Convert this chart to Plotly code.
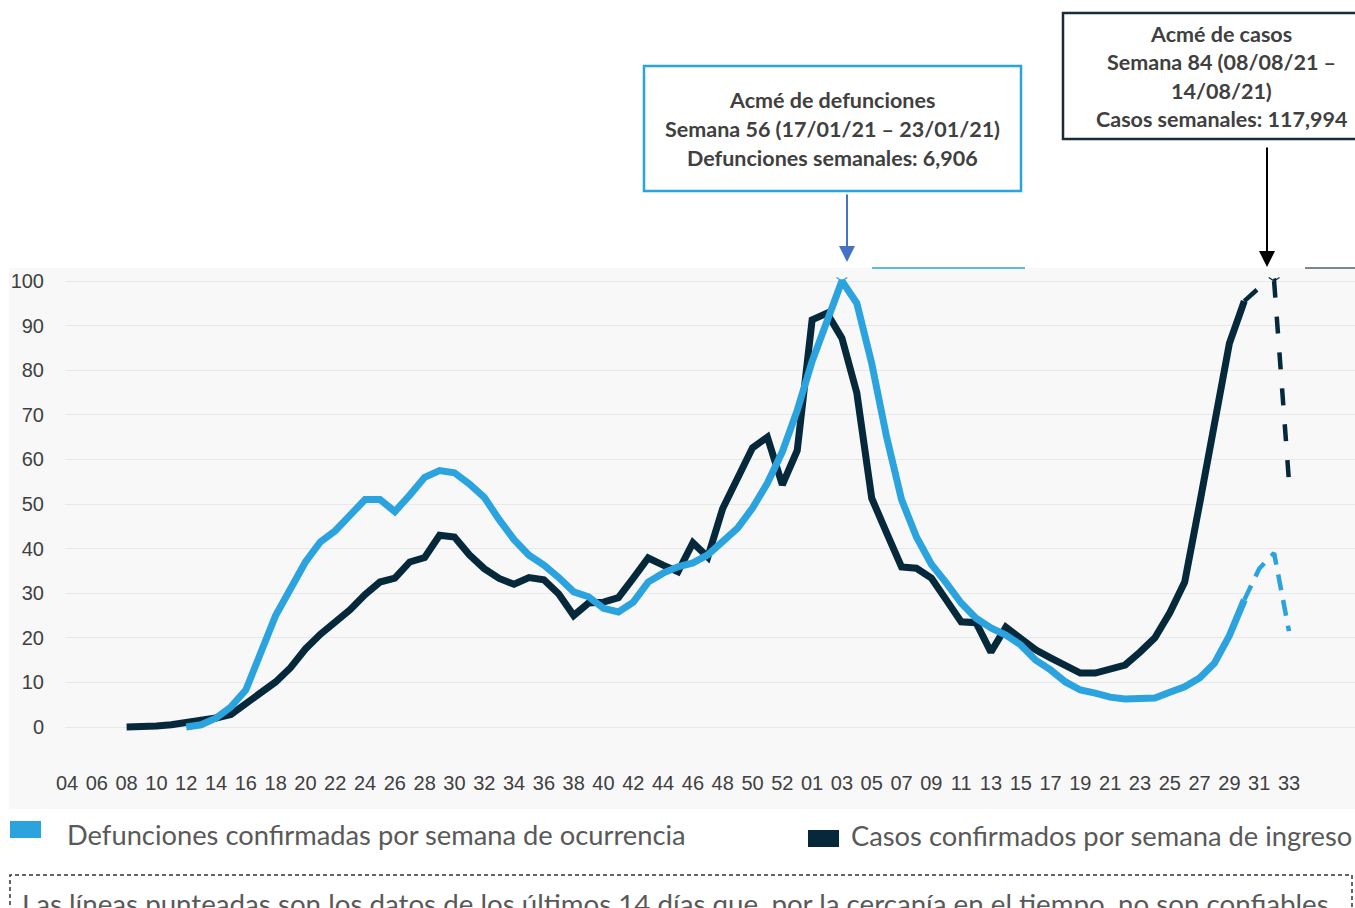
import plotly.graph_objects as go

W, H = 1355, 908

# ---------------- data ----------------
# continuous epidemiological week index (2020 week 1 = 1; 2021 week 1 = 54)
semanas_tick = list(range(4, 87, 2))
etiquetas_semana = ["04", "06", "08", "10", "12", "14", "16", "18", "20", "22", "24", "26",
                    "28", "30", "32", "34", "36", "38", "40", "42", "44", "46", "48", "50", "52",
                    "01", "03", "05", "07", "09", "11", "13", "15", "17", "19", "21", "23", "25",
                    "27", "29", "31", "33"]

semanas_casos = list(range(8, 84))
casos = [0, 0, 0.2, 0.5, 1, 1.3, 2, 2.8, 5.3, 8,
         10.1, 13.3, 17.5, 20.8, 23.5, 26.3, 29.7, 32.5, 33.4, 37,
         38, 43, 42.6, 38.6, 35.5, 33.3, 32, 33.5, 33, 29.8,
         25, 27.8, 28, 29, 33.4, 37.9, 36.3, 34.8, 41.3, 38.1,
         49, 55.4, 62.6, 65, 54.3, 62, 91.3, 92.8, 87.2, 74.9,
         51.3, 43.5, 35.9, 35.6, 33.4, 28.5, 23.6, 23.4, 16.8, 22.4,
         20, 17.3, 15.5, 13.9, 12.1, 12.1, 12.8, 13.9, 16.8, 20,
         25.6, 32.5, 50, 69, 86, 95.5]
semanas_casos_punteada = [83, 84, 85, 86]
casos_punteada = [95.5, 98.5, 100, 55]

semanas_def = list(range(12, 84))
defunciones = [0, 0.5, 2, 4.5, 8.3, 16.5, 25, 31, 37, 41.5,
               44, 47.5, 51, 51, 48.3, 52, 56, 57.5, 57, 54.5,
               51.5, 46.5, 42, 38.5, 36.3, 33.5, 30.3, 29.2, 26.6, 25.8,
               28, 32.5, 34.5, 35.9, 36.8, 38.6, 41.5, 44.6, 49.1, 54.7,
               61.7, 71, 82, 91, 100, 95, 81.5, 65, 51, 42.6,
               36.5, 32.3, 27.8, 24.4, 22.2, 20.6, 18.4, 15, 12.8, 10.1,
               8.3, 7.6, 6.7, 6.3, 6.3, 6.5, 7.8, 9, 11, 14.3,
               20.5, 28.5]
semanas_def_punteada = [83, 84, 85, 86]
def_punteada = [28.5, 35.5, 39, 21.5]

y_ticks = [0, 10, 20, 30, 40, 50, 60, 70, 80, 90, 100]

nombre_def = "Defunciones confirmadas por semana de ocurrencia"
nombre_casos = "Casos confirmados por semana de ingreso"
nota = ("Las líneas punteadas son los datos de los últimos 14 días que, "
        "por la cercanía en el tiempo, no son confiables.")
caja_def = ["Acmé de defunciones", "Semana 56 (17/01/21 – 23/01/21)",
            "Defunciones semanales: 6,906"]
caja_casos = ["Acmé de casos", "Semana 84 (08/08/21 –", "14/08/21)",
              "Casos semanales: 117,994"]

# ---------------- style ----------------
AZUL = "#2ba3de"
OSCURO = "#06283b"
GRIS_TXT = "#404040"
FONT_TXT = "Lato, 'Open Sans', sans-serif"

# horizontal placement correction observed for the rendering page
OX, SX = 9.0, 1346.0 / 1355.0


def px(x):
    return max(0.0, (x - OX) / SX) / W


def py(y):
    return (H - y) / H


fig = go.Figure()
fig.add_trace(go.Scatter(x=semanas_casos, y=casos, mode="lines", name=nombre_casos,
                         line=dict(color=OSCURO, width=7), showlegend=False))
fig.add_trace(go.Scatter(x=semanas_casos_punteada, y=casos_punteada, mode="lines",
                         line=dict(color=OSCURO, width=4.5, dash="17px,19px"), showlegend=False))
fig.add_trace(go.Scatter(x=semanas_def, y=defunciones, mode="lines", name=nombre_def,
                         line=dict(color=AZUL, width=7), showlegend=False))
fig.add_trace(go.Scatter(x=semanas_def_punteada, y=def_punteada, mode="lines",
                         line=dict(color=AZUL, width=4.5, dash="16px,10px"), showlegend=False))

# small fork marks at each peak
i_def = defunciones.index(max(defunciones))
i_cas = casos_punteada.index(max(casos_punteada))
fig.add_trace(go.Scatter(x=[semanas_def[i_def]], y=[defunciones[i_def]], mode="markers",
                         marker=dict(symbol="y-down", size=9, color=AZUL,
                                     line=dict(color=AZUL, width=1.2)),
                         showlegend=False, hoverinfo="skip"))
fig.add_trace(go.Scatter(x=[semanas_casos_punteada[i_cas]], y=[casos_punteada[i_cas]],
                         mode="markers",
                         marker=dict(symbol="y-down", size=9, color=OSCURO,
                                     line=dict(color=OSCURO, width=1.2)),
                         showlegend=False, hoverinfo="skip"))

shapes = [
    # grey chart background
    dict(type="rect", xref="paper", yref="paper", x0=0, x1=1, y0=py(809), y1=py(268),
         fillcolor="#f8f8f8", line=dict(width=0), layer="below"),
    # thin lines at top of the chart area
    dict(type="line", xref="paper", yref="paper", x0=px(872), x1=px(1025), y0=py(268), y1=py(268),
         line=dict(color=AZUL, width=1.5)),
    dict(type="line", xref="paper", yref="paper", x0=px(1305), x1=1, y0=py(268), y1=py(268),
         line=dict(color="#50606c", width=1.5)),
    # annotation boxes
    dict(type="rect", xref="paper", yref="paper", x0=px(644), x1=px(1021), y0=py(191), y1=py(66),
         line=dict(color=AZUL, width=2.5), fillcolor="white"),
    dict(type="rect", xref="paper", yref="paper", x0=px(1063), x1=px(1360), y0=py(139), y1=py(13),
         line=dict(color="#1a2a38", width=2.5), fillcolor="white"),
    # legend swatches
    dict(type="rect", xref="paper", yref="paper", x0=px(10), x1=px(41), y0=py(838), y1=py(821),
         fillcolor=AZUL, line=dict(width=0)),
    dict(type="rect", xref="paper", yref="paper", x0=px(808), x1=px(839), y0=py(847), y1=py(830),
         fillcolor=OSCURO, line=dict(width=0)),
    # dashed note box
    dict(type="rect", xref="paper", yref="paper", x0=px(10), x1=px(1352), y0=py(930), y1=py(875),
         line=dict(color="#333333", width=1.5, dash="4px,3px"), fillcolor="rgba(0,0,0,0)"),
]

annotations = []
for i, t in enumerate(caja_def):
    annotations.append(dict(text="<b>" + t + "</b>", xref="paper", yref="paper",
                            x=px(832), y=py(100 + 29 * i), xanchor="center", yanchor="middle",
                            showarrow=False, font=dict(family=FONT_TXT, size=21.5, color=GRIS_TXT)))
for i, t in enumerate(caja_casos):
    annotations.append(dict(text="<b>" + t + "</b>", xref="paper", yref="paper",
                            x=px(1221), y=py(34 + 28.3 * i), xanchor="center", yanchor="middle",
                            showarrow=False, font=dict(family=FONT_TXT, size=21.5, color=GRIS_TXT)))
# arrows
annotations.append(dict(text="", xref="paper", yref="paper", x=px(847), y=py(262),
                        ax=0, ay=-69, showarrow=True, arrowhead=2, arrowsize=1.6,
                        arrowwidth=2, arrowcolor="#4472c4"))
annotations.append(dict(text="", xref="paper", yref="paper", x=px(1267), y=py(267),
                        ax=0, ay=-121, showarrow=True, arrowhead=2, arrowsize=1.6,
                        arrowwidth=2, arrowcolor="#000000"))
# legend texts
annotations.append(dict(text=nombre_def, xref="paper", yref="paper", x=px(65), y=py(834),
                        xanchor="left", yanchor="middle", showarrow=False,
                        font=dict(family=FONT_TXT, size=27.3, color="#595959")))
annotations.append(dict(text=nombre_casos, xref="paper", yref="paper", x=px(849), y=py(835),
                        xanchor="left", yanchor="middle", showarrow=False,
                        font=dict(family=FONT_TXT, size=27.3, color="#595959")))
annotations.append(dict(text=nota, xref="paper", yref="paper", x=px(20), y=py(903),
                        xanchor="left", yanchor="middle", showarrow=False,
                        font=dict(family=FONT_TXT, size=27.7, color="#595959")))

fig.update_layout(
    width=W, height=H, autosize=False,
    margin=dict(l=0, r=0, t=0, b=0, pad=0),
    paper_bgcolor="white", plot_bgcolor="rgba(0,0,0,0)",
    showlegend=False,
    shapes=shapes, annotations=annotations,
    xaxis=dict(domain=[px(65), 1], range=[3.866, 90.429], tickmode="array",
               tickvals=semanas_tick, ticktext=etiquetas_semana, showgrid=False,
               zeroline=False, showline=False, ticks="", ticklabelstandoff=9,
               tickfont=dict(family="Liberation Sans, Arial, sans-serif", size=20, color=GRIS_TXT)),
    yaxis=dict(domain=[py(760), py(268)], range=[-7.399, 102.915], tickmode="array",
               tickvals=y_ticks, showgrid=True, gridcolor="#e8e8e8", gridwidth=1,
               zeroline=False, showline=False, ticks="", ticklabelstandoff=20,
               tickfont=dict(family="Liberation Sans, Arial, sans-serif", size=20, color=GRIS_TXT)),
)

fig.write_html(
    "out.html",
    config={"displayModeBar": False, "responsive": False},
    post_script=("document.documentElement.style.margin='0';"
                 "document.documentElement.style.padding='0';"
                 "document.documentElement.style.overflow='hidden';"
                 "document.body.style.margin='0';document.body.style.padding='0';"
                 "document.body.style.overflow='hidden';"),
)
